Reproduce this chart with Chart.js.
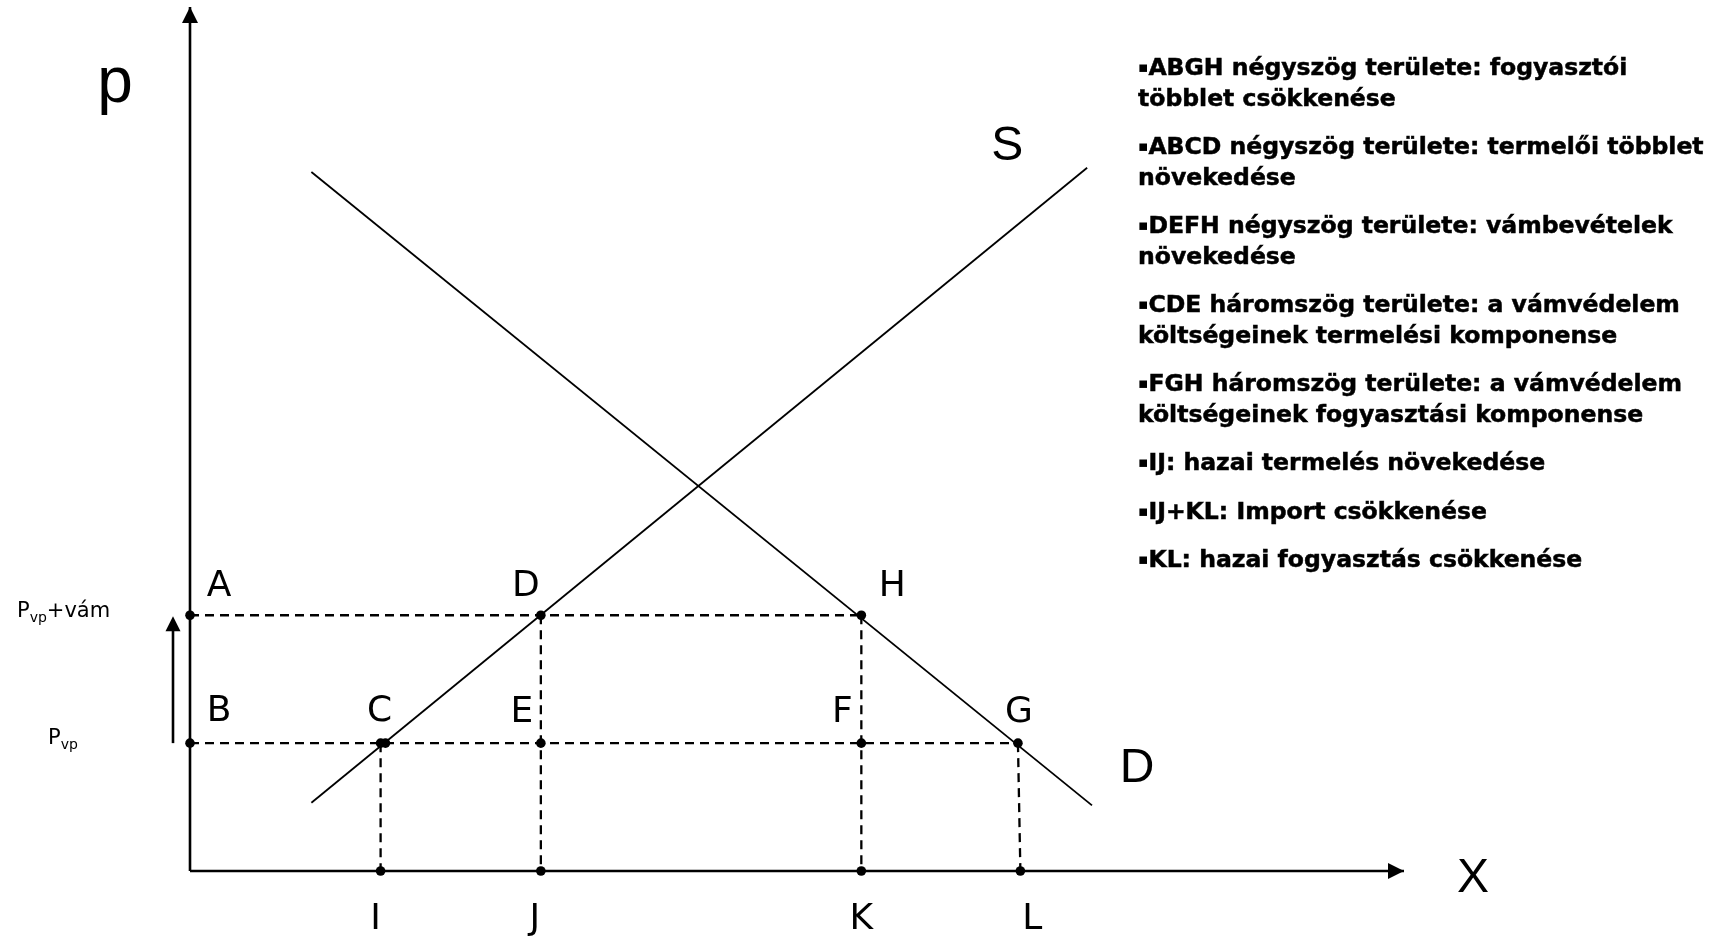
<!DOCTYPE html>
<html lang="hu">
<head>
<meta charset="utf-8">
<title>Vámvédelem hatásai</title>
<script src="https://cdn.jsdelivr.net/npm/chart.js@4/dist/chart.umd.min.js"></script>
<style>
  html, body { margin: 0; padding: 0; background: #fff; }
  #wrap { position: relative; width: 1717px; height: 936px; overflow: hidden; }
  #chart { position: absolute; left: 0; top: 0; }
  #notes {
    position: absolute; left: 1138px; top: 52px;
    font-family: "DejaVu Sans", Verdana, sans-serif;
    font-weight: bold; font-size: 23px; line-height: 30.5px;
    font-stretch: condensed; color: #000;
    -webkit-text-stroke: 0.45px #000;
    transform-origin: 0 0; white-space: nowrap;
  }
  #notes p { margin: 0 0 18px 0; }
  #notes .b { font-size: 15px; vertical-align: 3px; -webkit-text-stroke: 0; }
</style>
</head>
<body>
<div id="wrap">
  <canvas id="chart" width="1717" height="936"></canvas>
  <div id="notes">
    <p><span class="b">▪</span>ABGH négyszög területe: fogyasztói<br>többlet csökkenése</p>
    <p><span class="b">▪</span>ABCD négyszög területe: termelői többlet<br>növekedése</p>
    <p><span class="b">▪</span>DEFH négyszög területe: vámbevételek<br>növekedése</p>
    <p><span class="b">▪</span>CDE háromszög területe: a vámvédelem<br>költségeinek termelési komponense</p>
    <p><span class="b">▪</span>FGH háromszög területe: a vámvédelem<br>költségeinek fogyasztási komponense</p>
    <p><span class="b">▪</span>IJ: hazai termelés növekedése</p>
    <p><span class="b">▪</span>IJ+KL: Import csökkenése</p>
    <p><span class="b">▪</span>KL: hazai fogyasztás csökkenése</p>
  </div>
</div>
<script>
// ---- adatok (olvasva az ábráról, 0..100 egységben) ----
const supplyX = [10.0, 73.9];
const supplyY = [7.9, 81.4];
const demandX = [10.0, 74.3];
const demandY = [80.9, 7.6];

const priceNames = ['Pvp', 'Pvp+vám'];
const priceValues = [14.8, 29.6];

const qtyNames = ['I', 'J', 'K', 'L'];
const qtyValues = [15.7, 28.9, 55.3, 68.4];

const pointNames = ['A', 'B', 'C', 'D', 'E', 'F', 'G', 'H'];
const pointX = [0, 0, 15.7, 28.9, 28.9, 55.3, 68.2, 55.3];
const pointY = [29.6, 14.8, 14.8, 29.6, 14.8, 14.8, 14.8, 29.6];
const extraDotX = [16.1];   // a C-nél lévő második pont
const extraDotY = [14.8];

// szaggatott segédvonalak: [pontból, pontba]
const guideFrom = ['A', 'B', 'C', 'D', 'H', 'G'];
const guideTo   = ['H', 'G', 'I', 'J', 'K', 'L'];

// ---- címkék eltolása pixelben ----
const labelOffset = {
    A: [29, -29], B: [29, -31], C: [-1, -31], D: [-15, -29],
    E: [-19, -30], F: [-19, -30], G: [1, -30], H: [31, -29],
    I: [-5, 49], J: [-6, 49], K: [0, 49], L: [12, 49]
};

function pt(name) {
    const i = pointNames.indexOf(name);
    if (i >= 0) return { x: pointX[i], y: pointY[i] };
    const j = qtyNames.indexOf(name);
    return { x: qtyValues[j], y: 0 };
}

const dashStyle = { borderColor: '#000', borderWidth: 2.3, borderDash: [9, 6], pointRadius: 0, showLine: true, clip: false };
const datasets = [];

guideFrom.forEach((a, i) => {
    datasets.push(Object.assign({ data: [pt(a), pt(guideTo[i])] }, dashStyle));
});

// tengelyek
datasets.push({ data: [{ x: 0, y: 0 }, { x: 0, y: 100 }], borderColor: '#000', borderWidth: 2.6, pointRadius: 0, showLine: true, clip: false });
datasets.push({ data: [{ x: 0, y: 0 }, { x: 100, y: 0 }], borderColor: '#000', borderWidth: 2.6, pointRadius: 0, showLine: true, clip: false });

// kínálat, kereslet
datasets.push({ data: supplyX.map((x, i) => ({ x, y: supplyY[i] })), borderColor: '#000', borderWidth: 1.8, pointRadius: 0, showLine: true, clip: false });
datasets.push({ data: demandX.map((x, i) => ({ x, y: demandY[i] })), borderColor: '#000', borderWidth: 1.8, pointRadius: 0, showLine: true, clip: false });

// pontok
const dots = pointNames.map((n, i) => ({ x: pointX[i], y: pointY[i] }))
    .concat(qtyValues.map(q => ({ x: q, y: 0 })))
    .concat(extraDotX.map((x, i) => ({ x, y: extraDotY[i] })));
datasets.push({ data: dots, backgroundColor: '#000', borderColor: '#000', pointRadius: 4.8, borderWidth: 0, showLine: false, clip: false });

const annotate = {
    id: 'annotate',
    afterDatasetsDraw(chart) {
        const { ctx, scales: { x, y } } = chart;
        ctx.save();
        ctx.fillStyle = '#000';
        ctx.strokeStyle = '#000';

        // nyílhegyek
        const x0 = x.getPixelForValue(0), y0 = y.getPixelForValue(0);
        const yTop = y.getPixelForValue(100), xEnd = x.getPixelForValue(100);
        ctx.beginPath();
        ctx.moveTo(x0, yTop); ctx.lineTo(x0 - 8, yTop + 16); ctx.lineTo(x0 + 8, yTop + 16);
        ctx.closePath(); ctx.fill();
        ctx.beginPath();
        ctx.moveTo(xEnd, y0); ctx.lineTo(xEnd - 16, y0 - 8); ctx.lineTo(xEnd - 16, y0 + 8);
        ctx.closePath(); ctx.fill();

        // kis nyíl az áremelkedéshez
        const ax = x0 - 17;
        const yLow = y.getPixelForValue(priceValues[0]);
        const yHigh = y.getPixelForValue(priceValues[1]);
        ctx.lineWidth = 2.6;
        ctx.beginPath(); ctx.moveTo(ax, yLow); ctx.lineTo(ax, yHigh + 14); ctx.stroke();
        ctx.beginPath();
        ctx.moveTo(ax, yHigh + 1); ctx.lineTo(ax - 7.5, yHigh + 16); ctx.lineTo(ax + 7.5, yHigh + 16);
        ctx.closePath(); ctx.fill();

        // pont-betűk
        ctx.font = '36px "DejaVu Sans", Verdana, sans-serif';
        ctx.textAlign = 'center';
        ctx.textBaseline = 'middle';
        Object.keys(labelOffset).forEach(n => {
            const p = pt(n);
            const off = labelOffset[n];
            ctx.fillText(n, x.getPixelForValue(p.x) + off[0], y.getPixelForValue(p.y) + off[1]);
        });

        // görbék, tengelyek nevei
        ctx.font = '48px "Liberation Sans", Arial, sans-serif';
        const sEnd = supplyX.length - 1;
        ctx.fillText('S', x.getPixelForValue(supplyX[sEnd]) - 80, y.getPixelForValue(supplyY[sEnd]) - 21);
        const dEnd = demandX.length - 1;
        ctx.fillText('D', x.getPixelForValue(demandX[dEnd]) + 45, y.getPixelForValue(demandY[dEnd]) - 37);
        ctx.fillText('X', xEnd + 69, y0 + 8);
        ctx.font = '64px "Liberation Sans", Arial, sans-serif';
        ctx.textBaseline = 'alphabetic';
        ctx.fillText('p', x0 - 75, 102);

        // árszintek feliratai (alsó index)
        ctx.textAlign = 'left';
        const drawPrice = (rest, px, py) => {
            ctx.font = '21px "DejaVu Sans", Verdana, sans-serif';
            ctx.fillText('P', px, py);
            let w = ctx.measureText('P').width;
            ctx.font = '14px "DejaVu Sans", Verdana, sans-serif';
            ctx.fillText('vp', px + w, py + 5);
            w += ctx.measureText('vp').width;
            if (rest) {
                ctx.font = '21px "DejaVu Sans", Verdana, sans-serif';
                ctx.fillText(rest, px + w, py);
            }
        };
        drawPrice('+vám', 17, yHigh + 2);
        drawPrice('', 48, yLow + 1);
        ctx.restore();
    }
};

new Chart(document.getElementById('chart'), {
    type: 'scatter',
    data: { datasets },
    options: {
        responsive: false,
        animation: false,
        events: [],
        layout: { padding: { left: 190, right: 313, top: 7, bottom: 65 } },
        plugins: { legend: { display: false }, tooltip: { enabled: false } },
        scales: {
            x: { type: 'linear', min: 0, max: 100, display: false },
            y: { type: 'linear', min: 0, max: 100, display: false }
        }
    },
    plugins: [annotate]
});

// a jobb oldali szöveg szélességének igazítása (leghosszabb sor ~566 px)
(function fitNotes() {
    const notes = document.getElementById('notes');
    const w = notes.scrollWidth;
    const target = 566;
    if (w > 0) notes.style.transform = 'scaleX(' + (target / w).toFixed(4) + ')';
})();
</script>
</body>
</html>
